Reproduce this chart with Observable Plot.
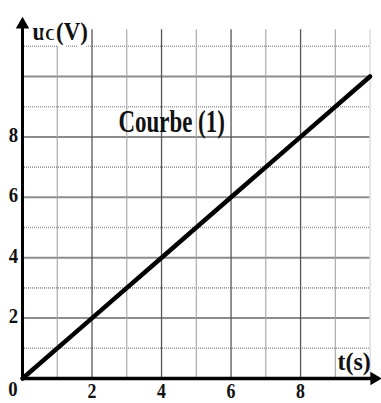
<!DOCTYPE html>
<html><head><meta charset="utf-8">
<script src="https://cdn.jsdelivr.net/npm/d3@7"></script>
<script src="https://cdn.jsdelivr.net/npm/@observablehq/plot@0.6"></script>
<style>body{margin:0;background:#fff} svg{display:block}</style>
</head><body><div id="chart"></div>
<script>
// data
const tValues = [0, 2, 4, 6, 8, 10];
const uValues = [0, 2, 4, 6, 8, 10];
const xTickLabels = [2, 4, 6, 8];
const yTickLabels = [2, 4, 6, 8];
const originLabel = ["0"];
const gridXMajor = [2, 4, 6, 8];
const gridXMinor = [1, 3, 5, 7, 9];
const gridXEdge = [10];
const gridYMajor = [2, 4, 6, 8, 10];
const gridYMinor = [1, 3, 5, 7, 9, 11];
const curveLabel = [{t: 4.29, u: 8.5, text: "Courbe (1)"}];
const yTitle = [{t: 0, u: 11.5, text: "uC(V)"}];
const xTitle = [{t: 9.54, u: 0.56, text: "t(s)"}];
const xMax = 10.3, yMax = 11.92, gridTop = 11.55;

const points = tValues.map((t, i) => ({t, u: uValues[i]}));
const serif = "Liberation Serif, Times New Roman, serif";
const ink = "#111";

const chart = Plot.plot({
  width: 381, height: 403,
  marginLeft: 22, marginRight: 1, marginTop: 18, marginBottom: 25,
  x: {domain: [0, xMax], axis: null},
  y: {domain: [0, yMax], axis: null},
  style: {fontFamily: serif, background: "#fff"},
  marks: [
    Plot.ruleY(gridYMinor, {x1: 0, x2: 10, stroke: "#9a9a9a", strokeWidth: 1.6, strokeDasharray: "1,1"}),
    Plot.ruleY(gridYMajor, {x1: 0, x2: 10, stroke: "#8c8c8c", strokeWidth: 2}),
    Plot.ruleX(gridXMinor, {y1: 0, y2: gridTop, stroke: "#a3a3a3", strokeWidth: 1.1}),
    Plot.ruleX(gridXMajor, {y1: 0, y2: gridTop, stroke: "#555", strokeWidth: 1.3}),
    Plot.ruleX(gridXEdge, {y1: 0, y2: gridTop, stroke: "#cfcfcf", strokeWidth: 1.1}),
    Plot.line(points, {x: "t", y: "u", stroke: "#000", strokeWidth: 4.5}),
    // axes
    Plot.ruleY([0], {x1: 0, x2: 10.05, stroke: "#000", strokeWidth: 3.5}),
    Plot.ruleX([0], {y1: 0, y2: 11.6, stroke: "#000", strokeWidth: 3}),
    Plot.dot([{t: 10.12, u: 0}], {x: "t", y: "u", symbol: "triangle", r: 5, fill: "#000", rotate: 90}),
    Plot.dot([{t: 0, u: 11.72}], {x: "t", y: "u", symbol: "triangle", r: 5, fill: "#000"}),
    // tick labels
    Plot.text(xTickLabels, {x: d => d, y: 0, text: d => String(d), dy: 12.5, fontSize: 21, fontWeight: "bold", fill: ink}),
    Plot.text(yTickLabels, {x: 0, y: d => d, text: d => String(d), dx: -9, dy: -2, fontSize: 22, fontWeight: "bold", fill: ink}),
    Plot.text(originLabel, {x: 0, y: 0, text: d => d, dx: -9.5, dy: 10, fontSize: 22, fontWeight: "bold", fill: ink}),
    // titles
    Plot.text(yTitle, {x: "t", y: "u", text: "text", dx: 10, textAnchor: "start", fontSize: 26, fontWeight: "bold", fill: ink, stroke: "#fff", strokeWidth: 8}),
    Plot.text(xTitle, {x: "t", y: "u", text: "text", fontSize: 26, fontWeight: "bold", fill: ink}),
    Plot.text(curveLabel, {x: "t", y: "u", text: "text", fontSize: 31, fontWeight: "bold", fill: ink})
  ]
});
document.getElementById("chart").appendChild(chart);

// typographic adjustments: subscript-like C and condensed glyphs
chart.querySelectorAll("text").forEach(t => {
  const s = t.textContent;
  if (s === "uC(V)") {
    t.textContent = "";
    const parts = [["u", null], ["C", 17], ["(V)", null]];
    for (const [str, fs] of parts) {
      const ts = document.createElementNS("http://www.w3.org/2000/svg", "tspan");
      ts.textContent = str;
      if (fs) ts.setAttribute("font-size", fs);
      t.appendChild(ts);
    }
  }
  let k = 1;
  if (/^\d$/.test(s)) k = 0.85;
  else if (s === "Courbe (1)") k = 0.74;
  else if (s === "t(s)") k = 0.92;
  else if (s === "uC(V)") k = 0.88;
  if (k !== 1) {
    const b = t.getBBox();
    const cx = s === "uC(V)" ? b.x : b.x + b.width / 2;
    const prev = t.getAttribute("transform") || "";
    t.setAttribute("transform", `${prev} translate(${cx},0) scale(${k},1) translate(${-cx},0)`);
  }
});
</script>
</body></html>
